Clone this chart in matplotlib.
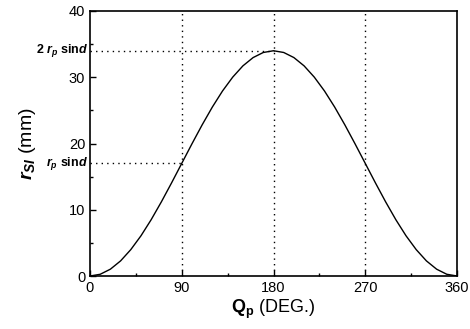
import matplotlib
matplotlib.use("Agg")
import matplotlib.pyplot as plt
from matplotlib.ticker import MultipleLocator

plt.rcParams['font.family'] = ['Liberation Sans', 'DejaVu Sans']
plt.rcParams['mathtext.fontset'] = 'custom'
plt.rcParams['mathtext.rm'] = 'Liberation Sans'
plt.rcParams['mathtext.it'] = 'Liberation Sans:italic:bold'
plt.rcParams['mathtext.bf'] = 'Liberation Sans:bold'

theta_deg = [0, 10, 20, 30, 40, 50, 60, 70, 80, 90, 100, 110, 120, 130, 140, 150, 160, 170, 180,
             190, 200, 210, 220, 230, 240, 250, 260, 270, 280, 290, 300, 310, 320, 330, 340, 350, 360]
r_si = [0.0, 0.26, 1.03, 2.28, 3.98, 6.07, 8.5, 11.19, 14.05, 17.0, 19.95, 22.81, 25.5, 27.93,
        30.02, 31.72, 32.97, 33.74, 34.0,
        33.74, 32.97, 31.72, 30.02, 27.93, 25.5, 22.81, 19.95, 17.0, 14.05, 11.19, 8.5, 6.07,
        3.98, 2.28, 1.03, 0.26, 0.0]
ref_theta = [90, 180, 270]
ref_r = [17.0, 34.0]
x_ticks = [0, 90, 180, 270, 360]
y_ticks = [0, 10, 20, 30, 40]

fig = plt.figure(figsize=(4.70, 3.29), dpi=100)
ax = fig.add_axes([90/470, 1 - 276/329, (457-90)/470, (276-11)/329])

ax.plot(theta_deg, r_si, color='black', lw=1.0)

# dotted reference lines
for t in ref_theta:
    ax.axvline(t, color='black', lw=1.0, ls=(0, (1, 3)))
ax.plot([0, 90], [ref_r[0], ref_r[0]], color='black', lw=1.0, ls=(0, (1, 3)))
ax.plot([0, 180], [ref_r[1], ref_r[1]], color='black', lw=1.0, ls=(0, (1, 3)))

ax.set_xlim(0, 360)
ax.set_ylim(0, 40)
ax.set_xticks(x_ticks)
ax.set_yticks(y_ticks)
ax.xaxis.set_minor_locator(MultipleLocator(45))
ax.yaxis.set_minor_locator(MultipleLocator(5))
ax.tick_params(which='both', direction='in', labelsize=10.5)
ax.tick_params(which='major', length=4, width=1)
ax.tick_params(which='minor', length=2, width=1)
for s in ax.spines.values():
    s.set_linewidth(1.2)

ax.text(-2, ref_r[1], r'2 $r_{p}$ sin$d$', ha='right', va='center',
        fontsize=9, fontweight='bold')
ax.text(-2, ref_r[0], r'$r_{p}$ sin$d$', ha='right', va='center',
        fontsize=9, fontweight='bold')

ax.set_xlabel(r'$\mathbf{Q}_{\mathbf{p}}$ (DEG.)', fontsize=13, labelpad=2)
ax.set_ylabel(r'$r_{SI}$ (mm)', fontsize=14)
ax.yaxis.set_label_coords(-0.143, 0.5)

fig.savefig('out.png', dpi=100)
